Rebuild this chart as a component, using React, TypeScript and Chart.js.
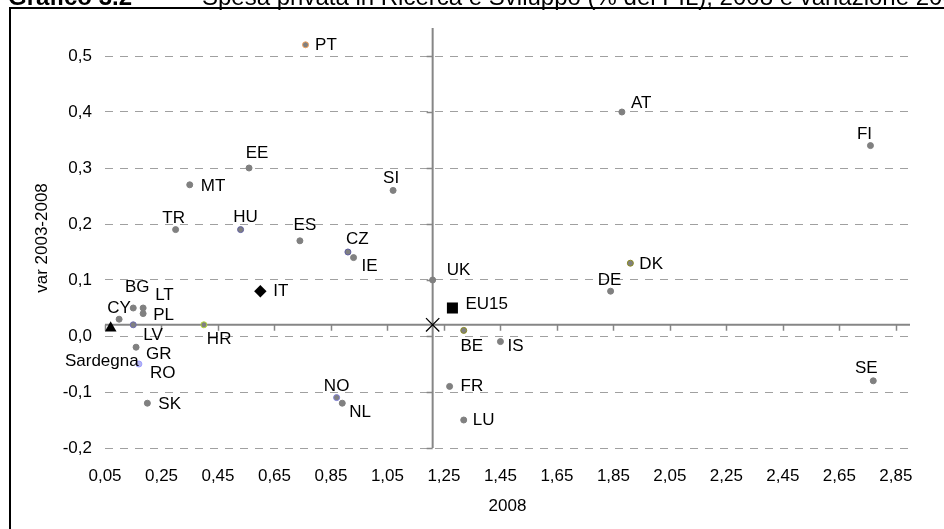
import React, { useEffect, useRef } from 'react';
import { Chart, registerables } from 'chart.js';

Chart.register(...registerables);

// ---- Data ----
const countries = ['PT', 'AT', 'FI', 'DK', 'DE', 'SE', 'EE', 'MT', 'TR', 'HU', 'ES', 'SI', 'CZ', 'IE', 'UK', 'BE', 'IS', 'FR', 'LU', 'NO', 'NL', 'HR', 'LV', 'CY', 'BG', 'LT', 'PL', 'GR', 'RO', 'SK'];
const spesa2008 = [0.76, 1.88, 2.76, 1.91, 1.84, 2.77, 0.56, 0.35, 0.30, 0.53, 0.74, 1.07, 0.91, 0.93, 1.21, 1.32, 1.45, 1.27, 1.32, 0.87, 0.89, 0.40, 0.15, 0.10, 0.15, 0.185, 0.185, 0.16, 0.17, 0.20];
const var20032008 = [0.52, 0.40, 0.34, 0.13, 0.08, -0.08, 0.30, 0.27, 0.19, 0.19, 0.17, 0.26, 0.15, 0.14, 0.10, 0.01, -0.01, -0.09, -0.15, -0.11, -0.12, 0.02, 0.02, 0.03, 0.05, 0.05, 0.04, -0.02, -0.05, -0.12];

const eu15 = [1.28, 0.05];
const italia = [0.60, 0.08];
const sardegna = [0.07, 0.014];
const eu27 = [1.21, 0.02]; // axes cross here

const xTicks = [0.05, 0.25, 0.45, 0.65, 0.85, 1.05, 1.25, 1.45, 1.65, 1.85, 2.05, 2.25, 2.45, 2.65, 2.85];
const yTicks = [-0.2, -0.1, 0, 0.1, 0.2, 0.3, 0.4, 0.5];
const xMin = 0.05;
const xMax = 2.9;
const yMin = -0.2;
const yMax = 0.55;

const titleBold = 'Grafico 3.2';
const titleText = 'Spesa privata in Ricerca e Sviluppo (% del PIL), 2008 e variazione 2003-2008';
const xTitle = '2008';
const yTitle = 'var 2003-2008';

// ---- Styles ----
const FONT = '"Liberation Sans", Arial, Helvetica, sans-serif';
const GREY = '#808080';
const markerBorder: Record<string, string> = {
  PT: '#f4a460', HU: '#5f5fa0', CZ: '#5f5fa0', LV: '#6f6fb4', NO: '#8080d8',
  DK: '#8a8a20', BE: '#8a8a20', HR: '#b4d83c', RO: '#a0a0ff',
};
const markerFill: Record<string, string> = { RO: '#b4b4f0' };

const labelPlacement: Record<string, [CanvasTextAlign, number, number]> = {
  PT: ['left', 9.5, 1], AT: ['left', 9, -9], FI: ['center', -6, -11], DK: ['left', 9, 1],
  DE: ['center', -1, -11], SE: ['center', -7, -12], EE: ['center', 8, -15], MT: ['left', 11, 2],
  TR: ['center', -2, -11], HU: ['center', 5, -12], ES: ['center', 5, -15], SI: ['center', -2, -12],
  CZ: ['center', 9.5, -13], IE: ['left', 8, 9], UK: ['left', 14, -10], EU15: ['left', 13, -4],
  BE: ['center', 8, 16], IS: ['left', 7, 5], FR: ['left', 11, 0], LU: ['left', 9, 0],
  NO: ['center', 0, -11], NL: ['left', 7, 9], IT: ['left', 13, 0], HR: ['left', 3, 15],
  LV: ['left', 10, 11], CY: ['center', 0, -11], BG: ['center', 4, -21], LT: ['left', 12, -13],
  PL: ['left', 10, 2], GR: ['left', 10, 7], RO: ['left', 11, 9], Sardegna: ['right', 28, 33.5],
  SK: ['left', 11, 1],
};

const fmt = (v: number, d: number) => v.toFixed(d).replace('.', ',');

const framePlugin = {
  id: 'frame',
  beforeDraw(chart: any) {
    const { ctx, width, height } = chart;
    ctx.save();
    ctx.fillStyle = '#ffffff';
    ctx.fillRect(0, 0, width, height);
    ctx.fillStyle = '#000000';
    ctx.textBaseline = 'alphabetic';
    ctx.textAlign = 'left';
    ctx.font = `bold 24px ${FONT}`;
    ctx.fillText(titleBold, 8, 5);
    ctx.font = `24px ${FONT}`;
    ctx.fillText(titleText, 202, 5);
    ctx.fillRect(9, 7, 2, height);
    ctx.fillRect(9, 7, width, 2);
    ctx.restore();
  },
};

const crossAxesPlugin = {
  id: 'crossAxes',
  beforeDatasetsDraw(chart: any) {
    const { ctx, chartArea, scales } = chart;
    const xs = scales.x, ys = scales.y;
    const cx = xs.getPixelForValue(eu27[0]);
    const cy = ys.getPixelForValue(eu27[1]);
    ctx.save();
    ctx.strokeStyle = '#868686';
    ctx.lineWidth = 2;
    ctx.beginPath();
    ctx.moveTo(chartArea.left, cy);
    ctx.lineTo(chartArea.right, cy);
    ctx.moveTo(cx, chartArea.top);
    ctx.lineTo(cx, chartArea.bottom);
    ctx.stroke();
    ctx.lineWidth = 1.5;
    ctx.beginPath();
    xTicks.forEach((v) => {
      const px = Math.round(xs.getPixelForValue(v)) + 0.5;
      ctx.moveTo(px, cy);
      ctx.lineTo(px, cy + 6);
    });
    yTicks.forEach((v) => {
      const py = Math.round(ys.getPixelForValue(v)) + 0.5;
      ctx.moveTo(cx - 6, py);
      ctx.lineTo(cx, py);
    });
    ctx.stroke();
    ctx.restore();
  },
};

const labelPlugin = {
  id: 'pointLabels',
  afterDatasetsDraw(chart: any) {
    const { ctx } = chart;
    ctx.save();
    ctx.font = `17px ${FONT}`;
    ctx.fillStyle = '#000000';
    ctx.textBaseline = 'middle';
    chart.data.datasets.forEach((ds: any, di: number) => {
      const meta = chart.getDatasetMeta(di);
      (ds.names || []).forEach((name: string, i: number) => {
        const p = labelPlacement[name];
        const el = meta.data[i];
        if (!p || !el) return;
        ctx.textAlign = p[0];
        ctx.fillText(name, el.x + p[1], el.y + p[2]);
      });
    });
    ctx.restore();
  },
};

export default function App() {
  const ref = useRef<HTMLCanvasElement>(null);

  useEffect(() => {
    const canvas = ref.current;
    if (!canvas) return;
    const tickFont = { family: FONT, size: 17 };
    const chart = new Chart(canvas, {
      type: 'scatter',
      data: {
        datasets: [
          {
            names: countries,
            data: countries.map((_, i) => ({ x: spesa2008[i], y: var20032008[i] })),
            pointStyle: 'circle',
            pointRadius: 3,
            pointBorderWidth: 1,
            pointBackgroundColor: countries.map((c) => markerFill[c] || GREY),
            pointBorderColor: countries.map((c) => markerBorder[c] || GREY),
          } as any,
          {
            names: ['EU15'],
            data: [{ x: eu15[0], y: eu15[1] }],
            pointStyle: 'rect',
            pointRadius: 7.8,
            pointBorderWidth: 0,
            pointBackgroundColor: '#000000',
            pointBorderColor: '#000000',
          } as any,
          {
            names: ['IT'],
            data: [{ x: italia[0], y: italia[1] }],
            pointStyle: 'rectRot',
            pointRadius: 6.2,
            pointBorderWidth: 0,
            pointBackgroundColor: '#000000',
            pointBorderColor: '#000000',
          } as any,
          {
            names: ['Sardegna'],
            data: [{ x: sardegna[0], y: sardegna[1] }],
            pointStyle: 'triangle',
            pointRadius: 6.8,
            pointBorderWidth: 0,
            pointBackgroundColor: '#000000',
            pointBorderColor: '#000000',
          } as any,
          {
            names: [],
            data: [{ x: eu27[0], y: eu27[1] }],
            pointStyle: 'crossRot',
            pointRadius: 9.4,
            pointBorderWidth: 1.3,
            pointBackgroundColor: '#000000',
            pointBorderColor: '#000000',
          } as any,
        ],
      },
      options: {
        animation: false,
        responsive: false,
        events: [],
        layout: { padding: { left: 0, right: 34, top: 28, bottom: 6 } },
        plugins: {
          legend: { display: false },
          tooltip: { enabled: false },
          title: { display: false },
        },
        scales: {
          x: {
            type: 'linear',
            min: xMin,
            max: xMax,
            afterBuildTicks: (s: any) => { s.ticks = xTicks.map((v) => ({ value: v })); },
            afterFit: (s: any) => { s.height = 75; },
            grid: { display: false, drawTicks: false },
            border: { display: false },
            ticks: {
              autoSkip: false,
              maxRotation: 0,
              padding: 18,
              color: '#000000',
              font: tickFont,
              callback: (v: any) => fmt(Number(v), 2),
            },
            title: { display: true, text: xTitle, color: '#000000', font: tickFont, padding: { top: 0, bottom: 6 } },
          },
          y: {
            type: 'linear',
            min: yMin,
            max: yMax,
            afterBuildTicks: (s: any) => { s.ticks = yTicks.map((v) => ({ value: v })); },
            afterFit: (s: any) => { s.width = 105; },
            grid: { display: true, drawTicks: false, color: '#a0a0a0', lineWidth: 1 },
            border: { display: false, dash: [8, 7] },
            ticks: {
              autoSkip: false,
              padding: 13,
              color: '#000000',
              font: tickFont,
              callback: (v: any) => fmt(Number(v), 1),
            },
            title: { display: true, text: yTitle, color: '#000000', font: tickFont, padding: { top: 32, bottom: 0 } },
          },
        },
      } as any,
      plugins: [framePlugin, crossAxesPlugin, labelPlugin],
    });
    return () => chart.destroy();
  }, []);

  return (
    <div style={{ position: 'absolute', left: 0, top: 0, width: 944, height: 529, background: '#ffffff' }}>
      <canvas ref={ref} width={944} height={529} style={{ display: 'block', width: 944, height: 529 }} />
    </div>
  );
}
